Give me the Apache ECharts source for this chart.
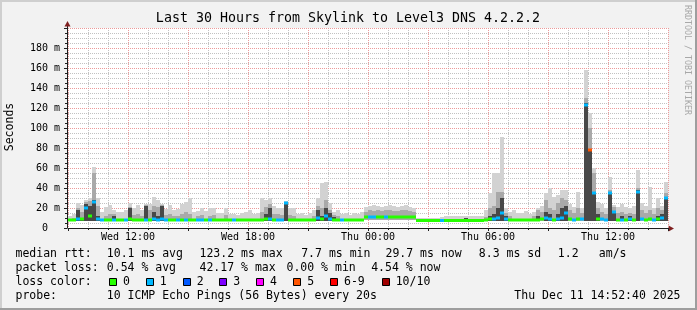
<!DOCTYPE html>
<html><head><meta charset="utf-8">
<script src="https://cdn.jsdelivr.net/npm/echarts@6/dist/echarts.min.js"></script>
<style>html,body{margin:0;padding:0;background:#f2f2f2}#c{width:697px;height:310px}</style>
</head><body><div id="c"></div>
<script>
// 12-minute steps from Wed 09:00 to Thu 15:00 (x axis in hours from Wed 09:00)
const stepHours = 0.2;
const xTickHours = [3, 9, 15, 21, 27];
const xTickLabels = ['Wed 12:00', 'Wed 18:00', 'Thu 00:00', 'Thu 06:00', 'Thu 12:00'];
const yTicks = [0, 20, 40, 60, 80, 100, 120, 140, 160, 180];

// smoke bottom (ms)
const lo = [
7,7,7,7,7,7,7,7,7,7, 7,7,7,7,7,7,7,7,7,7, 7,7,7,7,7,7,7,7,7,7, 7,7,7,7,7,7,7,7,7,7,
7,7,7,7,7,7,7,7,7,7, 7,7,7,7,7,7,7,7,7,7, 7,7,7,7,7,7,7,7,7,7, 7,7,7,7,8,8,8,8,8,8,
8,8,8,8,8,8,8,6.5,6.5,6.5, 6.5,6.5,6.5,6.5,6.5,6.5,6.5,6.5,6.5,6.5, 6.5,6.5,6.5,6.5,7,7,7,7,7,7,
7,7,7,7,7,7,7,7,7,7, 7,7,7,7,7,7,7,7,7,7, 7,7,7,7,7,7,7,7,7,7, 7,7,7,7,7,7,7,7,7,7];
// smoke top (ms)
const hi = [
12,14,25,23,28,30,61,30,16,21, 23,18,16,16,18,25,20,23,18,24, 24,31,28,24,19,23,18,19,24,26,
30,16,17,20,17,20,20,15,15,20, 14,14,13,15,16,18,14,15,30,28, 30,22,20,20,27,20,20,14,15,13,
15,18,30,45,46,25,16,18,14,15, 13,15,14,16,21,22,23,22,21,22, 23,22,21,22,23,21,20,10,10,10,
10,10,10,11,12,12,12,12,12,12, 12,12,12,12,18,35,55,55,91,20, 16,18,15,15,17,14,16,20,22,35,
40,31,33,38,38,24,21,36,20,158, 115,60,26,24,20,51,23,21,24,21, 20,22,58,25,22,41,20,30,22,46];
// top of denser (mid grey) smoke (ms)
const mid = [
0,10,20,16,26,27,55,22,0,12, 14,14,0,0,0,21,13,14,12,23, 18,22,21,23,13,14,12,12,14,16,
14,0,12,13,0,12,13,0,0,13, 0,0,0,0,0,0,0,0,16,21, 24,14,14,13,25,13,12,0,0,0,
0,12,22,20,28,18,13,12,0,0, 0,0,0,0,16,18,17,18,17,18, 18,17,17,18,18,17,16,0,0,0,
0,0,0,0,0,0,0,0,0,0, 0,0,0,0,11,20,22,36,36,15, 12,0,0,0,0,0,12,18,16,28,
20,18,25,30,28,18,15,20,15,130, 100,55,20,16,14,38,21,15,16,14, 15,14,40,18,15,18,14,20,18,35];
// top of darkest smoke (ms)
const dk = [
0,0,18,10,24,22,28,12,0,0, 0,12,0,0,0,20,0,0,0,22, 0,16,12,22,0,0,0,0,0,0,
0,0,0,0,0,0,0,0,0,0, 0,0,0,0,0,0,0,0,0,14, 20,0,0,0,24,0,0,0,0,0,
0,0,18,12,20,15,11,0,0,0, 0,0,0,0,0,0,0,0,0,0, 0,0,0,0,0,0,0,0,0,0,
0,0,0,0,0,0,0,0,0,10, 0,0,0,0,0,12,14,20,30,12, 0,0,0,0,0,0,0,12,0,16,
14,0,14,20,22,0,0,0,0,125, 78,35,14,0,0,35,16,0,12,0, 12,0,38,0,0,0,0,12,14,30];
// median rtt (ms)
const med = [
8,8,9,9,20,12,26,9,8,8, 8,8,8,8,8,9,8,8,8,8, 8,9,8,9,8,8,8,8,8,8,
8,8,8,8,8,8,8,8,8,8, 8,8,8,8,8,8,8,8,8,9, 9,8,8,8,25,8,8,8,8,8,
8,8,10,9,12,9,8,8,8,8, 8,8,8,8,11,11,11,11,11,11, 11,11,11,11,11,11,11,7.5,7.5,7.5,
7.5,7.5,7.5,7.5,7.5,7.5,7.5,7.5,7.5,7.5, 7.5,7.5,7.5,7.5,8,9,9,10,15,9, 8,8,8,8,8,8,8,8,9,10,
9,8,9,10,15,9,8,9,9,123, 78,35,9,9,8,35,16,8,8,8, 9,8,36,9,8,9,8,9,10,30];
// lost pings out of 10
const loss = [
0,0,1,0,1,0,1,1,1,0, 0,1,0,0,1,0,0,0,0,1, 0,1,1,1,1,0,0,1,0,1,
0,0,1,1,0,1,0,0,0,0, 0,1,0,0,0,0,0,0,0,0, 1,0,1,1,1,0,0,0,0,0,
0,0,1,0,1,1,0,0,1,0, 0,0,0,0,0,1,1,0,0,1, 0,0,0,0,0,0,0,0,0,0,
0,0,0,1,0,0,0,0,0,0, 0,0,0,0,0,0,1,1,1,1, 0,0,0,0,0,0,0,0,0,1,
1,0,1,1,1,0,1,0,1,1, 5,1,0,1,1,1,1,0,1,0, 1,0,1,1,0,0,1,0,1,1];

const lossLabels = ['0', '1', '2', '3', '4', '5', '6-9', '10/10'];
const lossColors = ['#26ff00', '#00b8ff', '#0059ff', '#7e00ff', '#ff00ff', '#ff5500', '#ff0000', '#a10000'];
function lossColor(n) { return lossColors[n <= 5 ? n : (n < 10 ? 6 : 7)]; }

const rows = lo.map((v, i) => [i * stepHours, lo[i], hi[i], mid[i], dk[i], med[i], loss[i]]);

const MONO = 'DejaVu Sans Mono';
const chart = echarts.init(document.getElementById('c'), null, { renderer: 'canvas' });

function renderItem(params, api) {
  const t = api.value(0);
  const x0 = api.coord([t, 0])[0];
  const x1 = api.coord([t + stepHours, 0])[0];
  const w = x1 - x0;
  const l = api.value(1);
  const yLo = api.coord([t, l])[1];
  const kids = [];
  function band(v, color) {
    const y = api.coord([t, v])[1];
    kids.push({ type: 'rect', shape: { x: x0, y: y, width: w, height: yLo - y }, style: { fill: color } });
  }
  band(api.value(2), '#d2d2d2');
  if (api.value(3) > l) band(api.value(3), '#a9a9a9');
  if (api.value(4) > l) band(api.value(4), '#484848');
  const ym = api.coord([t, api.value(5)])[1];
  kids.push({ type: 'rect', shape: { x: x0, y: ym - 1.5, width: w, height: 3 }, style: { fill: lossColor(api.value(6)) } });
  return { type: 'group', children: kids };
}

const graphics = [];
// frame shading
graphics.push({ type: 'rect', shape: { x: 0, y: 0, width: 697, height: 2 }, style: { fill: '#cfcfcf' }, silent: true });
graphics.push({ type: 'rect', shape: { x: 0, y: 0, width: 2, height: 310 }, style: { fill: '#cfcfcf' }, silent: true });
graphics.push({ type: 'rect', shape: { x: 0, y: 308, width: 697, height: 2 }, style: { fill: '#9e9e9e' }, silent: true });
graphics.push({ type: 'rect', shape: { x: 695, y: 0, width: 2, height: 310 }, style: { fill: '#9e9e9e' }, silent: true });
// title
graphics.push({ type: 'text', x: 348, y: 19, style: { text: 'Last 30 Hours from Skylink to Level3 DNS 4.2.2.2', fontFamily: MONO, fontSize: 13.3, fill: '#000', align: 'center', verticalAlign: 'middle' } });
// y name
graphics.push({ type: 'text', x: 10, y: 127, rotation: Math.PI / 2, style: { text: 'Seconds', fontFamily: MONO, fontSize: 11.5, fill: '#000', align: 'center', verticalAlign: 'middle' } });
// watermark
graphics.push({ type: 'text', x: 687, y: 60, rotation: -Math.PI / 2, style: { text: 'RRDTOOL / TOBI OETIKER', fontFamily: MONO, fontSize: 8.3, fill: '#a8a8a8', align: 'center', verticalAlign: 'middle' } });
// axis arrows
graphics.push({ type: 'line', shape: { x1: 67.5, y1: 28, x2: 67.5, y2: 25 }, style: { stroke: '#1f1f1f', lineWidth: 1 } });
graphics.push({ type: 'polygon', shape: { points: [[64.5, 26.5], [70.5, 26.5], [67.5, 21]] }, style: { fill: '#7f1f1f' } });
graphics.push({ type: 'line', shape: { x1: 668, y1: 228.5, x2: 670, y2: 228.5 }, style: { stroke: '#1f1f1f', lineWidth: 1 } });
graphics.push({ type: 'polygon', shape: { points: [[668.5, 225.5], [668.5, 231.5], [674, 228.5]] }, style: { fill: '#7f1f1f' } });

function txt(s, x, y, align) {
  graphics.push({ type: 'text', x: x, y: y, style: { text: s, fontFamily: MONO, fontSize: 11.5, fill: '#000', align: align || 'left', verticalAlign: 'middle' } });
}
const r1 = 254.3, r2 = 268.3, r3 = 282.3, r4 = 296.3;
txt('median rtt:', 15.5, r1); txt('10.1 ms avg', 106.8, r1); txt('123.2 ms max', 199.5, r1);
txt('7.7 ms min', 301.2, r1); txt('29.7 ms now', 385.5, r1); txt('8.3 ms sd', 478.8, r1);
txt('1.2', 557.8, r1); txt('am/s', 598.8, r1);
txt('packet loss:', 15.5, r2); txt('0.54 % avg', 106.8, r2); txt('42.17 % max', 199.5, r2);
txt('0.00 % min', 286.5, r2); txt('4.54 % now', 371.2, r2);
txt('loss color:', 15.5, r3);
const sqX = [109, 145.7, 182.7, 219.3, 256, 293.3, 330, 381.7];
lossLabels.forEach((lab, k) => {
  graphics.push({ type: 'rect', shape: { x: Math.round(sqX[k]) + 0.5, y: 278.5, width: 7, height: 7 }, style: { fill: lossColors[k], stroke: '#000', lineWidth: 1 } });
  txt(lab, sqX[k] + 14, r3);
});
txt('probe:', 15.5, r4); txt('10 ICMP Echo Pings (56 Bytes) every 20s', 106.8, r4);
txt('Thu Dec 11 14:52:40 2025', 680.5, r4, 'right');

const gridGrey = '#c2c2c2';
const gridRed = '#eb9a9a';
const hidden = { axisLine: { show: false }, axisTick: { show: false }, axisLabel: { show: false } };

chart.setOption({
  animation: false,
  backgroundColor: '#f2f2f2',
  grid: { left: 68, top: 28, width: 600, height: 200, show: true, backgroundColor: '#ffffff', borderWidth: 0, containLabel: false, outerBoundsMode: 'none' },
  xAxis: [
    Object.assign({ type: 'value', position: 'top', min: 0, max: 30, interval: 1, z: 0,
      splitLine: { show: true, lineStyle: { color: gridGrey, type: [1, 1], width: 1 } } }, hidden),
    {
      type: 'value', position: 'bottom', min: 0, max: 30, interval: 3, z: 1,
      axisLine: { show: true, onZero: false, lineStyle: { color: '#1f1f1f', width: 1 } },
      axisTick: { show: true, length: 3, lineStyle: { color: '#1f1f1f' } },
      minorTick: { show: true, splitNumber: 3, length: 2, lineStyle: { color: '#1f1f1f' } },
      axisLabel: {
        margin: 4, fontFamily: MONO, fontSize: 10, color: '#000',
        formatter: function (v) { const k = xTickHours.indexOf(Math.round(v)); return k >= 0 ? xTickLabels[k] : ''; }
      },
      splitLine: { show: true, lineStyle: { color: gridRed, type: [1, 1], width: 1 } }
    }
  ],
  yAxis: [
    Object.assign({ type: 'value', position: 'right', min: 0, max: 200, interval: 5, z: 0,
      splitLine: { show: true, lineStyle: { color: gridGrey, type: [1, 1], width: 1 } } }, hidden),
    {
      type: 'value', position: 'left', min: 0, max: 200, interval: 20, offset: 1, z: 1,
      axisLine: { show: true, onZero: false, lineStyle: { color: '#1f1f1f', width: 1 } },
      axisTick: { show: true, length: 3, lineStyle: { color: '#1f1f1f' } },
      minorTick: { show: true, splitNumber: 4, length: 2, lineStyle: { color: '#1f1f1f' } },
      axisLabel: {
        margin: 7, fontFamily: MONO, fontSize: 10, color: '#000',
        formatter: function (v) { if (yTicks.indexOf(v) < 0) return ''; return v === 0 ? '0  ' : v + ' m'; }
      },
      splitLine: { show: true, lineStyle: { color: gridRed, type: [1, 1], width: 1 } }
    }
  ],
  series: [{
    type: 'custom', renderItem: renderItem, data: rows, clip: true,
    xAxisIndex: 1, yAxisIndex: 1,
    encode: { x: 0, y: 2 }
  }],
  graphic: graphics
});
</script>
</body></html>
